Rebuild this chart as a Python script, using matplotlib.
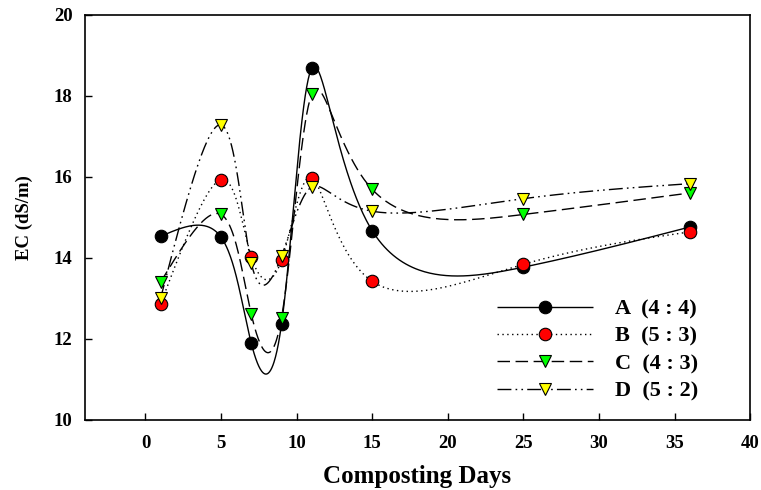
import matplotlib
matplotlib.use("Agg")
import matplotlib.pyplot as plt
import numpy as np

plt.rcParams['font.family'] = ['Liberation Serif', 'DejaVu Serif']
plt.rcParams['font.weight'] = 'bold'

days = [1, 5, 7, 9, 11, 15, 25, 36]
ec_a = [14.53, 14.51, 11.89, 12.36, 18.68, 14.67, 13.77, 14.76]
ec_b = [12.86, 15.93, 14.03, 13.94, 15.98, 13.42, 13.84, 14.64]
ec_c = [13.40, 15.07, 12.61, 12.52, 18.04, 15.69, 15.07, 15.60]
ec_d = [13.00, 17.28, 13.87, 14.04, 15.75, 15.15, 15.46, 15.83]
labels = ["A  (4 : 4)", "B  (5 : 3)", "C  (4 : 3)", "D  (5 : 2)"]


def nat_coeffs(t, y):
    k = len(t)
    h = np.diff(t)
    A = np.zeros((k, k))
    r = np.zeros(k)
    A[0, 0] = A[-1, -1] = 1
    for i in range(1, k - 1):
        A[i, i - 1] = h[i - 1]
        A[i, i] = 2 * (h[i - 1] + h[i])
        A[i, i + 1] = h[i]
        r[i] = 6 * ((y[i + 1] - y[i]) / h[i] - (y[i] - y[i - 1]) / h[i - 1])
    return np.linalg.solve(A, r)


def nat_eval(t, y, m, ts):
    k = len(t)
    idx = np.clip(np.searchsorted(t, ts) - 1, 0, k - 2)
    t0, t1 = t[idx], t[idx + 1]
    hh = t1 - t0
    a, b = t1 - ts, ts - t0
    return (m[idx] * a**3 + m[idx + 1] * b**3) / (6 * hh) \
        + (y[idx] / hh - m[idx] * hh / 6) * a \
        + (y[idx + 1] / hh - m[idx + 1] * hh / 6) * b


def smooth_curve(x, y, n=600):
    # parametric natural spline, one parameter step per point
    x = np.asarray(x, float)
    y = np.asarray(y, float)
    t = np.arange(len(x), dtype=float)
    ts = np.linspace(0, t[-1], n)
    xs = nat_eval(t, x, nat_coeffs(t, x), ts)
    ys = nat_eval(t, y, nat_coeffs(t, y), ts)
    return xs, ys


fig = plt.figure(figsize=(7.61, 4.90), dpi=100)
ax = fig.add_axes([0.1117, 0.143, 0.874, 0.827])

series = [
    (ec_a, (0, ()), 'o', 'black', 9),
    (ec_b, (0, (1, 2.5)), 'o', 'red', 9),
    (ec_c, (0, (9, 4)), 'v', '#00ff00', 8.5),
    (ec_d, (0, (10, 3, 1.2, 3, 1.2, 3)), 'v', 'yellow', 8.5),
]

for (vals, ls, mk, col, ms), lab in zip(series, labels):
    xs, ys = smooth_curve(days, vals)
    ax.plot(xs, ys, color='black', lw=1.0, linestyle=ls, zorder=2)
    ax.plot(days, vals, linestyle='none', marker=mk, markersize=ms,
            markerfacecolor=col, markeredgecolor='black', markeredgewidth=0.8, zorder=3)
    # legend proxy
    ax.plot([], [], color='black', lw=1.0, linestyle=ls, marker=mk, markersize=ms,
            markerfacecolor=col, markeredgecolor='black', markeredgewidth=0.8, label=lab)

ax.set_xlim(-4, 40)
ax.set_ylim(10, 20)
ax.set_xticks(range(0, 41, 5))
ax.set_yticks(range(10, 21, 2))
ax.tick_params(direction='in', length=5, width=1, labelsize=13.5)
ax.tick_params(axis='x', pad=11)
ax.tick_params(axis='y', pad=9)
for lbl in ax.get_xticklabels() + ax.get_yticklabels():
    lbl.set_fontweight('bold')
for s in ax.spines.values():
    s.set_linewidth(1.2)

ax.set_xlabel("Composting Days", fontsize=18, fontweight='bold', labelpad=9)
ax.set_ylabel("EC (dS/m)", fontsize=13.5, fontweight='bold', labelpad=15)

handles, labs = ax.get_legend_handles_labels()
ax.legend(handles, labs, loc='upper left', bbox_to_anchor=(0.606, 0.32),
          frameon=False, handlelength=4.3, labelspacing=0.3,
          handletextpad=1.0, borderaxespad=0, prop={'weight': 'bold', 'size': 16})

fig.savefig("out.png", dpi=100)
